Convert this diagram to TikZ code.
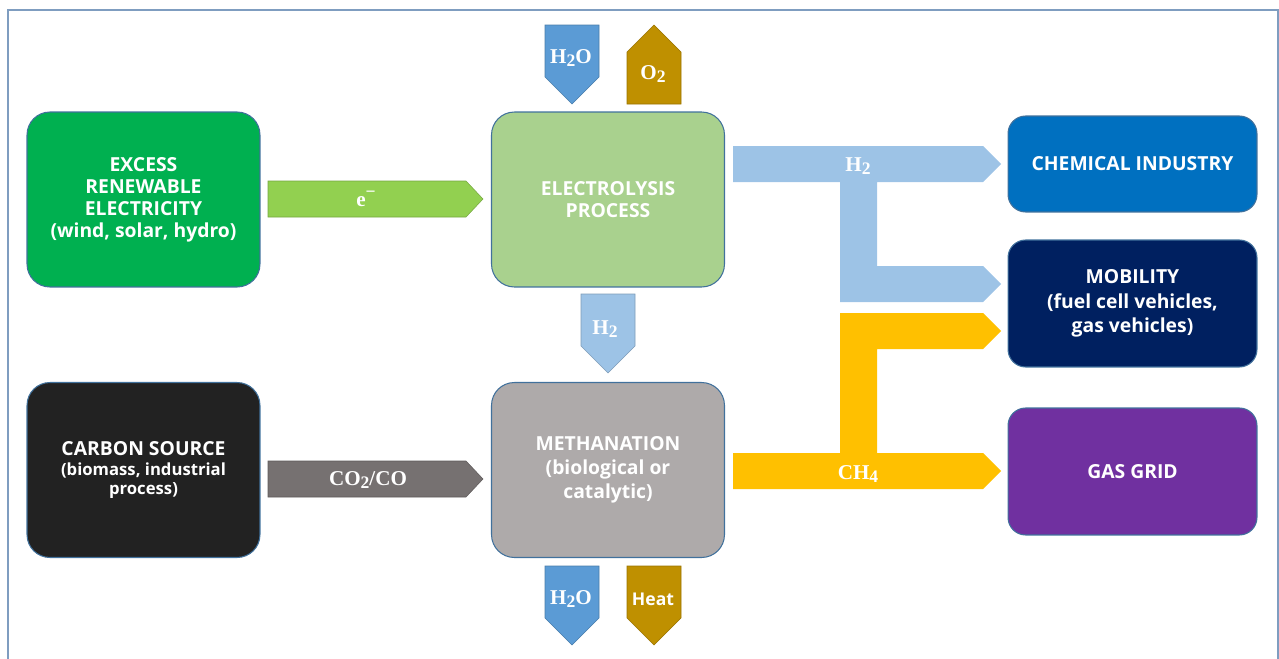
\documentclass[tikz,border=0pt]{standalone}
\usepackage{fontspec}
\setmainfont{Open Sans}
\newfontfamily\chemfont{Liberation Serif}
\newcommand\chsub[1]{\raisebox{-0.35ex}{\fontsize{10}{10}\selectfont #1}}
\definecolor{framecol}{HTML}{7F9DC0}
\definecolor{boxline}{HTML}{41719C}
\definecolor{renewgreen}{HTML}{00B050}
\definecolor{carbonblack}{HTML}{222222}
\definecolor{electrogreen}{HTML}{A9D18E}
\definecolor{methgray}{HTML}{AEAAAA}
\definecolor{chemblue}{HTML}{0070C0}
\definecolor{mobnavy}{HTML}{002060}
\definecolor{gridpurple}{HTML}{7030A0}
\definecolor{elecarrow}{HTML}{92D050}
\definecolor{coarrow}{HTML}{767171}
\definecolor{htwo}{HTML}{9DC3E6}
\definecolor{water}{HTML}{5B9BD5}
\definecolor{oxy}{HTML}{BF9000}
\definecolor{methane}{HTML}{FFC000}
\tikzset{
  bigbox/.style={draw=boxline, line width=0.6pt, rounded corners=13pt, minimum width=4.66cm, minimum height=3.5cm, text=white, font=\fontsize{11}{12.5}\selectfont\bfseries, align=center},
  usebox/.style={draw=boxline, line width=0.6pt, rounded corners=10pt, minimum width=4.98cm, text=white, font=\fontsize{11}{14}\selectfont\bfseries, align=center},
  chemlabel/.style={text=white, font=\chemfont\fontsize{12}{14}\selectfont\bfseries},
  blockarrow/.style={draw=#1!80!black, line width=0.3pt, fill=#1}
}
\begin{document}
\begin{tikzpicture}[x=0.02cm,y=-0.02cm]
\useasboundingbox (0,0) rectangle (1279,659);
\draw[framecol, line width=1.2pt] (8,10) rectangle (1278,690);

% process boxes
\node[bigbox, fill=renewgreen] (renew) at (143.5,199.5) {EXCESS\\RENEWABLE\\ELECTRICITY\\(wind, solar, hydro)};
\node[bigbox, fill=carbonblack, font=\fontsize{11}{11}\selectfont\bfseries] (carbon) at (143.5,470) {CARBON SOURCE\\{\fontsize{9.5}{11}\selectfont(biomass, industrial}\\{\fontsize{9.5}{11}\selectfont process)}};
\node[bigbox, fill=electrogreen] (electro) at (608,199.5) {ELECTROLYSIS\\PROCESS};
\node[bigbox, fill=methgray, font=\fontsize{11}{13.8}\selectfont\bfseries] (meth) at (608,470) {METHANATION\\(biological or\\catalytic)};

% end uses
\node[usebox, fill=chemblue, minimum height=1.92cm] (chem) at (1132.5,164) {CHEMICAL INDUSTRY};
\node[usebox, fill=mobnavy, minimum height=2.54cm] (mob) at (1132.5,303.5) {MOBILITY\\(fuel cell vehicles,\\gas vehicles)};
\node[usebox, fill=gridpurple, minimum height=2.54cm] (grid) at (1132.5,471.5) {GAS GRID};

% inputs
\path[blockarrow=elecarrow] (268,181) -- (466,181) -- (483,199) -- (466,217) -- (268,217) -- cycle;
\node[chemlabel] (elec) at (366,199) {e\raisebox{0.9ex}{\fontsize{10}{10}\selectfont\char"2212}};
\path[blockarrow=coarrow] (268,461) -- (466,461) -- (483,479) -- (466,497) -- (268,497) -- cycle;
\node[chemlabel] (cosrc) at (368,480) {CO\chsub{2}/CO};

% electrolysis to methanation
\path[blockarrow=htwo] (581,294) -- (635,294) -- (635,346) -- (608,373) -- (581,346) -- cycle;
\node[chemlabel] (hdown) at (605,329) {H\chsub{2}};

% water and oxygen
\path[blockarrow=water] (545,25) -- (599,25) -- (599,77) -- (572,104) -- (545,77) -- cycle;
\node[chemlabel] (waterin) at (571,58) {H\chsub{2}O};
\path[blockarrow=oxy] (627,104) -- (627,52) -- (654,25) -- (681,52) -- (681,104) -- cycle;
\node[chemlabel] (oxout) at (653,74) {O\chsub{2}};
\path[blockarrow=water] (545,566) -- (599,566) -- (599,618) -- (572,645) -- (545,618) -- cycle;
\node[chemlabel] (waterout) at (571,599) {H\chsub{2}O};
\path[blockarrow=oxy] (627,566) -- (681,566) -- (681,618) -- (654,645) -- (627,618) -- cycle;
\node[text=white, font=\fontsize{10}{12}\selectfont\bfseries] (heat) at (653,599) {Heat};

% hydrogen branch
\path[fill=htwo] (733,146) -- (983,146) -- (1001,164) -- (983,182) -- (877,182) -- (877,266) -- (983,266) -- (1001,284) -- (983,302) -- (840,302) -- (840,182) -- (733,182) -- cycle;
\node[chemlabel] (hside) at (858,166) {H\chsub{2}};

% methane branch
\path[fill=methane] (840,313) -- (983,313) -- (1001,331) -- (983,349) -- (877,349) -- (877,453) -- (983,453) -- (1001,471) -- (983,489) -- (733,489) -- (733,453) -- (840,453) -- cycle;
\node[chemlabel] (chfour) at (858,474) {CH\chsub{4}};
\end{tikzpicture}
\end{document}
